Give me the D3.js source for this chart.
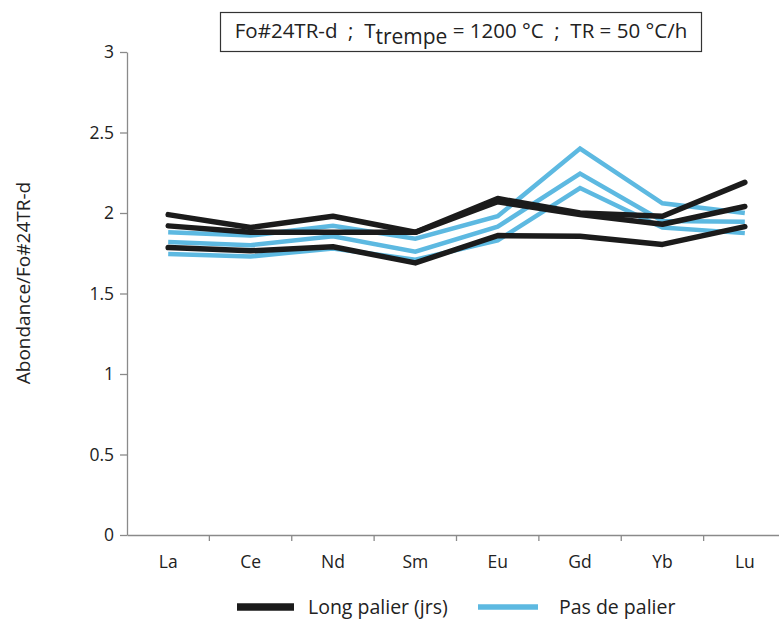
<!DOCTYPE html>
<html>
<head>
<meta charset="utf-8">
<script src="https://cdn.jsdelivr.net/npm/d3@7"></script>
<style>
  body { margin: 0; background: #fff; }
  svg { font-family: "Open Sans", "Noto Sans", sans-serif; }
</style>
</head>
<body>
<svg id="chart" width="779" height="619" viewBox="0 0 779 619"></svg>
<script>
// --- Data ---
const elements = ["La", "Ce", "Nd", "Sm", "Eu", "Gd", "Yb", "Lu"];
const yTicks = [0, 0.5, 1, 1.5, 2, 2.5, 3];

// Long palier (black)
const longA = [1.99, 1.91, 1.98, 1.88, 2.09, 2.00, 1.98, 2.19];
const longB = [1.92, 1.88, 1.88, 1.88, 2.07, 1.99, 1.93, 2.04];
const longC = [1.785, 1.765, 1.79, 1.69, 1.86, 1.855, 1.805, 1.915];

// Pas de palier (blue)
const pasA = [1.88, 1.86, 1.92, 1.84, 1.98, 2.40, 2.06, 2.00];
const pasB = [1.82, 1.80, 1.855, 1.76, 1.915, 2.245, 1.95, 1.945];
const pasC = [1.745, 1.73, 1.78, 1.71, 1.83, 2.155, 1.91, 1.875];

const seriesLong = [longA, longB, longC];
const seriesPas = [pasA, pasB, pasC];

const black = "#1b1b1b";
const blue = "#5db9e1";
const axisColor = "#8a8a8a";
const font = '"Open Sans", "Noto Sans", sans-serif';

const svg = d3.select("#chart");

const margin = { left: 127, top: 52, bottom: 535 };
const x = d3.scaleBand().domain(elements).range([127, 786]);
const y = d3.scaleLinear().domain([0, 3]).range([margin.bottom, margin.top]);

// --- Axes ---
const yAxis = svg.append("g")
  .attr("transform", `translate(${margin.left},0)`)
  .call(d3.axisLeft(y).tickValues(yTicks).tickSize(7).tickSizeOuter(0).tickPadding(6)
    .tickFormat(d => d3.format("")(d)));
yAxis.attr("font-family", font).attr("font-size", 17.5);
yAxis.select(".domain").attr("stroke", axisColor).attr("stroke-width", 1.3);
yAxis.selectAll(".tick line").attr("stroke", axisColor).attr("stroke-width", 1.3);
yAxis.selectAll(".tick text").attr("fill", "#222");

const xAxis = svg.append("g")
  .attr("transform", `translate(0,${margin.bottom})`)
  .call(d3.axisBottom(x).tickSize(0).tickPadding(21));
xAxis.attr("font-family", font).attr("font-size", 17.5);
xAxis.select(".domain").attr("stroke", axisColor).attr("stroke-width", 1.3);
xAxis.selectAll(".tick text").attr("fill", "#222");

// category boundary ticks
svg.append("g").selectAll("line")
  .data(elements.slice(1))
  .join("line")
  .attr("x1", d => x(d)).attr("x2", d => x(d))
  .attr("y1", margin.bottom).attr("y2", margin.bottom + 6)
  .attr("stroke", axisColor).attr("stroke-width", 1.3);

// --- Lines ---
const line = d3.line()
  .x((d, i) => x(elements[i]) + x.bandwidth() / 2)
  .y(d => y(d));

svg.append("g").selectAll("path")
  .data(seriesPas)
  .join("path")
  .attr("d", line)
  .attr("fill", "none")
  .attr("stroke", blue)
  .attr("stroke-width", 4.5)
  .attr("stroke-linejoin", "miter");

svg.append("g").selectAll("path")
  .data(seriesLong)
  .join("path")
  .attr("d", line)
  .attr("fill", "none")
  .attr("stroke", black)
  .attr("stroke-width", 5.5)
  .attr("stroke-linecap", "round")
  .attr("stroke-linejoin", "round");

// --- Y label ---
svg.append("text")
  .attr("transform", "translate(30,283) rotate(-90)")
  .attr("text-anchor", "middle")
  .style("font-size", "19px")
  .attr("fill", "#222")
  .text("Abondance/Fo#24TR-d");

// --- Title box ---
svg.append("rect")
  .attr("x", 220.5).attr("y", 12.5)
  .attr("width", 481).attr("height", 39)
  .attr("fill", "#fff")
  .attr("stroke", "#333")
  .attr("stroke-width", 1.2);

const title = svg.append("text")
  .attr("x", 461).attr("y", 38)
  .attr("text-anchor", "middle")
  .style("font-size", "20.5px")
  .style("white-space", "pre")
  .attr("fill", "#222");
title.append("tspan").text("Fo#24TR-d  ;  T");
title.append("tspan").attr("dy", 6).style("font-size", "21px").text("trempe");
title.append("tspan").attr("dy", -6).text(" = 1200 °C  ;  TR = 50 °C/h");

// --- Legend ---
const legend = [
  { label: "Long palier (jrs)", color: black, x1: 237, x2: 294, w: 7.5, tx: 308 },
  { label: "Pas de palier", color: blue, x1: 478, x2: 538, w: 5.5, tx: 559 }
];
const lg = svg.append("g").selectAll("g").data(legend).join("g");
lg.append("line")
  .attr("x1", d => d.x1).attr("x2", d => d.x2)
  .attr("y1", 607).attr("y2", 607)
  .attr("stroke", d => d.color)
  .attr("stroke-width", d => d.w);
lg.append("text")
  .attr("x", d => d.tx).attr("y", 614)
  .style("font-size", "19.5px")
  .attr("fill", "#222")
  .text(d => d.label);
</script>
</body>
</html>
